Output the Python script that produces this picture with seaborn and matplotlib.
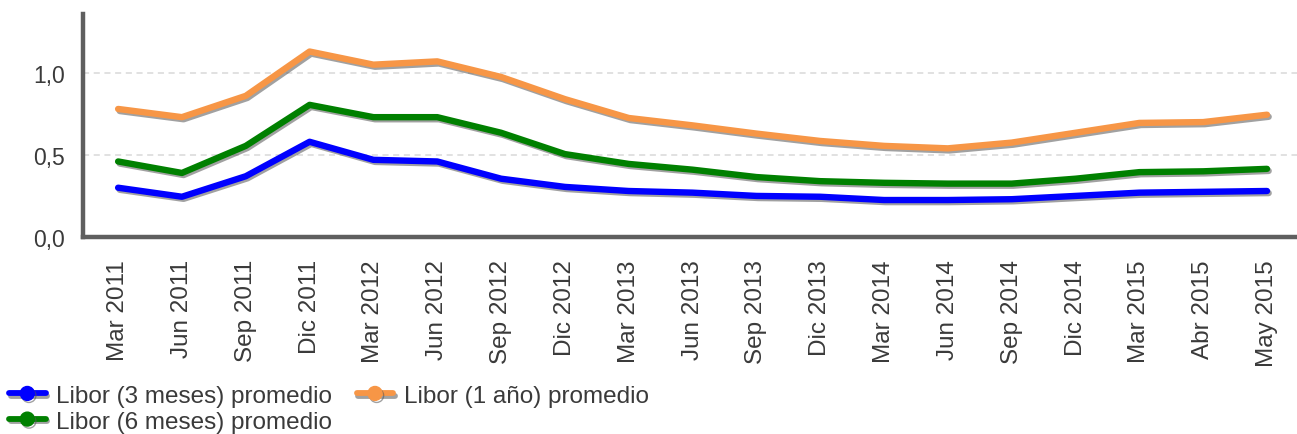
import numpy as np
import pandas as pd
import matplotlib
matplotlib.use("Agg")
import matplotlib.pyplot as plt
import matplotlib.patheffects as pe
from matplotlib.lines import Line2D
import seaborn as sns

fechas = ["Mar 2011", "Jun 2011", "Sep 2011", "Dic 2011", "Mar 2012", "Jun 2012",
          "Sep 2012", "Dic 2012", "Mar 2013", "Jun 2013", "Sep 2013", "Dic 2013",
          "Mar 2014", "Jun 2014", "Sep 2014", "Dic 2014", "Mar 2015", "Abr 2015",
          "May 2015"]

libor_3m = [0.30, 0.245, 0.37, 0.58, 0.47, 0.46, 0.355, 0.305, 0.28, 0.27, 0.25,
            0.245, 0.225, 0.225, 0.23, 0.25, 0.27, 0.275, 0.28]
libor_6m = [0.46, 0.39, 0.555, 0.805, 0.73, 0.73, 0.635, 0.505, 0.445, 0.41, 0.365,
            0.34, 0.33, 0.325, 0.325, 0.355, 0.395, 0.40, 0.415]
libor_1a = [0.78, 0.73, 0.86, 1.13, 1.05, 1.07, 0.975, 0.84, 0.725, 0.68, 0.63,
            0.585, 0.555, 0.54, 0.575, 0.635, 0.695, 0.70, 0.745]

series = ["Libor (3 meses) promedio", "Libor (6 meses) promedio", "Libor (1 año) promedio"]
colores = ["#0000FF", "#008000", "#F79646"]

df = pd.concat([
    pd.DataFrame({"fecha": fechas, "valor": v, "serie": s})
    for s, v in zip(series, [libor_3m, libor_6m, libor_1a])
])

sns.set_theme(style="white")
plt.rcParams["font.family"] = ["Liberation Sans", "DejaVu Sans"]

fig = plt.figure(figsize=(12.97, 4.35), dpi=100)
ax = fig.add_axes([0.064, 0.453, 0.936, 0.513])

sombra = [pe.SimpleLineShadow(offset=(1.2, -1.5), shadow_color="#555555", alpha=0.55),
          pe.Normal()]

sns.lineplot(data=df, x="fecha", y="valor", hue="serie", hue_order=series,
             palette=colores, sort=False, linewidth=4.6, ax=ax, legend=False)
for ln in ax.get_lines():
    ln.set_path_effects(sombra)
    ln.set_solid_capstyle("round")
    ln.set_solid_joinstyle("round")

ax.set_xlim(-0.55, len(fechas) - 0.53)
ax.set_ylim(0, 1.36)
ax.set_yticks([0.0, 0.5, 1.0])
ax.set_yticklabels(["0,0", "0,5", "1,0"])
ax.set_xlabel("")
ax.set_ylabel("")

ax.yaxis.grid(True, linestyle=(0, (4, 3)), color="#d9d9d9", linewidth=1.1)
ax.set_axisbelow(True)
for side in ["top", "right"]:
    ax.spines[side].set_visible(False)
for side in ["left", "bottom"]:
    ax.spines[side].set_color("#5f5f5f")
    ax.spines[side].set_linewidth(3.2)

ax.tick_params(axis="x", labelrotation=90, labelsize=17.5, colors="#3a3a3a",
               length=0, pad=16)
ax.tick_params(axis="y", labelsize=16.5, colors="#3a3a3a", length=0, pad=13)

handles = [Line2D([0], [0], color=c, linewidth=4.2, marker="o", markersize=10,
                  path_effects=sombra) for c in colores]
fig.legend(handles, series, loc="center left", bbox_to_anchor=(0.007, 0.058),
           ncol=2, frameon=False, fontsize=17.5, labelcolor="#3a3a3a",
           handlelength=1.5, handletextpad=0.45, columnspacing=1.0,
           labelspacing=0.15, borderpad=0.0, borderaxespad=0.0)

fig.savefig("out.png", dpi=100)
